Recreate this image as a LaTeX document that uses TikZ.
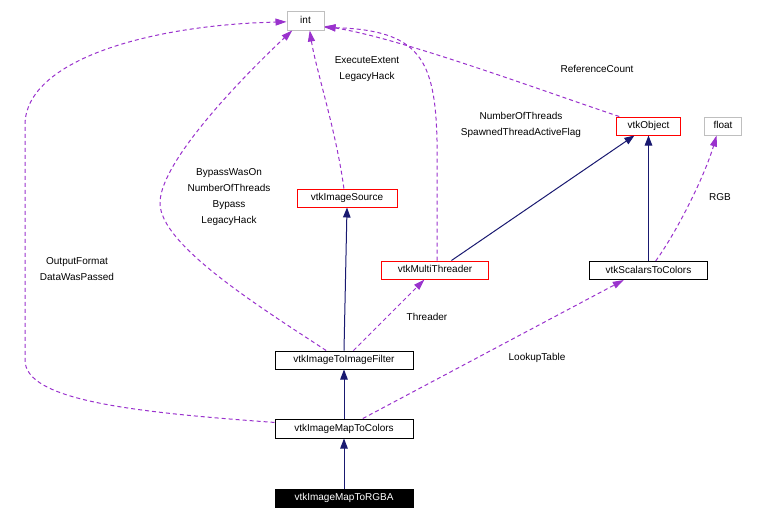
\documentclass[tikz,border=0pt]{standalone}
\usepackage{fontspec}
\setmainfont{Liberation Sans}
\usepackage{tikz}
\usetikzlibrary{arrows.meta}
\definecolor{inhcol}{HTML}{191970}
\definecolor{usecol}{HTML}{9A32CD}
\definecolor{extcol}{HTML}{BFBFBF}
\begin{document}
\begin{tikzpicture}[x=1pt,y=-1pt]
\tikzstyle{every node}+=[inner sep=0pt,font=\fontsize{10}{16}\selectfont]
\tikzstyle{cls}=[draw=black,line width=1pt,minimum height=18pt,text height=7.6pt,text depth=1.8pt]
\tikzstyle{redcls}=[cls,draw=red]
\tikzstyle{extcls}=[cls,draw=extcol]
\tikzstyle{inh}=[draw=inhcol,line width=1pt,-{Triangle[length=10pt,width=7.5pt]}]
\tikzstyle{use}=[draw=usecol,line width=1pt,dash pattern=on 4pt off 3pt,-{Triangle[length=11pt,width=7pt]}]
\tikzstyle{lbl}=[align=center]
\useasboundingbox (0,0) rectangle (766,520);
\node [extcls,minimum width=37pt,minimum height=19pt] (int) at (305.5,20.5) {int};
\node [extcls,minimum width=37pt] (flt) at (723,126) {float};
\node [redcls,minimum width=64pt] (obj) at (648.5,126) {vtkObject};
\node [redcls,minimum width=100pt] (src) at (347,198) {vtkImageSource};
\node [redcls,minimum width=107pt] (thr) at (435,270) {vtkMultiThreader};
\node [cls,minimum width=118pt] (s2c) at (648.5,270.5) {vtkScalarsToColors};
\node [cls,minimum width=138pt] (filt) at (344,360) {vtkImageToImageFilter};
\node [cls,minimum width=138pt,minimum height=19pt] (m2c) at (344,428.5) {vtkImageMapToColors};
\node [cls,minimum width=138pt,fill=black,text=white] (rgba) at (344,498) {vtkImageMapToRGBA};
\draw [inh] (rgba.north) -- (m2c.south);
\draw [inh] (m2c.north) -- (filt.south);
\draw [inh] (filt.north) -- (src.south);
\draw [inh] (thr.30) -- (obj.-146);
\draw [inh] (s2c.north) -- (obj.south);
\draw [use] (obj.162) .. controls (540,90) and (400,38) .. (int.-17);
\node [lbl] (lref) at (597,69) {ReferenceCount};
\draw [use] (thr.78) -- (437,140) .. controls (435,60) and (420,30) .. (int.-20);
\node [lbl] (lthr) at (521,125) {NumberOfThreads\\SpawnedThreadActiveFlag};
\draw [use] (src.108) .. controls (336,130) and (316,70) .. (int.-67);
\node [lbl] (lsrc) at (367,69.5) {ExecuteExtent\\LegacyHack};
\draw [use] (filt.152) .. controls (260,307) and (160,245) .. (160,203) .. controls (160,160) and (250,70) .. (int.-143);
\node [lbl] (lfilt) at (229,197) {BypassWasOn\\NumberOfThreads\\Bypass\\LegacyHack};
\draw [use] (m2c.175) .. controls (130,412) and (25,400) .. (25,360) -- (25,125) .. controls (25,60) and (150,25) .. (int.184);
\node [lbl] (lm2c) at (77,269) {OutputFormat\\DataWasPassed};
\draw [use] (filt.45) -- (thr.-138);
\node [lbl] (lthreader) at (427,317) {Threader};
\draw [use] (m2c.28) -- (s2c.-159);
\node [lbl] (llut) at (537,358) {LookupTable};
\draw [use] (s2c.53) .. controls (678,230) and (705,175) .. (flt.-124);
\node [lbl] (lrgb) at (720,197) {RGB};
\end{tikzpicture}
\end{document}
